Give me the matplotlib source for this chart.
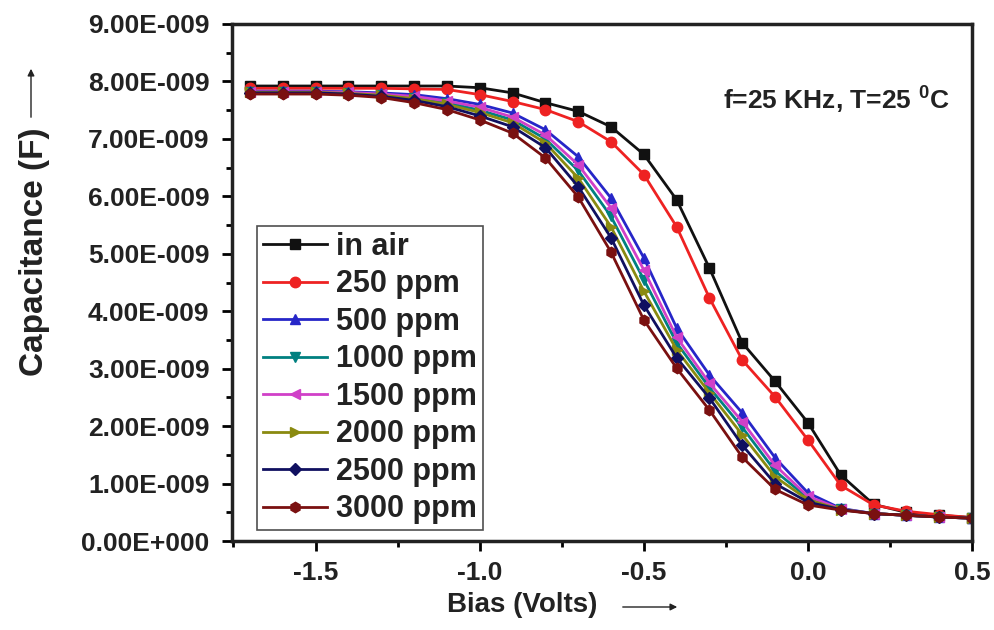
import matplotlib
matplotlib.use("Agg")
import matplotlib.pyplot as plt
import numpy as np
from matplotlib.ticker import MultipleLocator, FuncFormatter

plt.rcParams['font.family'] = ['Liberation Sans', 'DejaVu Sans']
plt.rcParams['font.weight'] = 'bold'
plt.rcParams['mathtext.fontset'] = 'custom'
plt.rcParams['mathtext.bf'] = 'Liberation Sans:bold'
plt.rcParams['mathtext.rm'] = 'Liberation Sans:bold'

bias = [-1.7, -1.6, -1.5, -1.4, -1.3, -1.2, -1.1, -1.0, -0.9, -0.8, -0.7, -0.6,
        -0.5, -0.4, -0.3, -0.2, -0.1, 0.0, 0.1, 0.2, 0.3, 0.4, 0.5]

labels = ["in air", "250 ppm", "500 ppm", "1000 ppm", "1500 ppm",
          "2000 ppm", "2500 ppm", "3000 ppm"]

in_air = [7.92, 7.92, 7.92, 7.92, 7.92, 7.92, 7.92, 7.89, 7.80, 7.63, 7.48, 7.21,
          6.73, 5.94, 4.75, 3.45, 2.78, 2.06, 1.15, 0.64, 0.50, 0.45, 0.41]
ppm250 = [7.88, 7.88, 7.88, 7.88, 7.88, 7.87, 7.86, 7.77, 7.65, 7.51, 7.30, 6.95,
          6.38, 5.47, 4.23, 3.15, 2.51, 1.76, 0.97, 0.63, 0.52, 0.46, 0.41]
ppm500 = [7.83, 7.83, 7.83, 7.82, 7.80, 7.77, 7.70, 7.60, 7.45, 7.16, 6.69, 5.97,
          4.93, 3.71, 2.89, 2.23, 1.45, 0.84, 0.57, 0.48, 0.45, 0.42, 0.40]
ppm1000 = [7.81, 7.81, 7.81, 7.80, 7.77, 7.72, 7.63, 7.50, 7.33, 7.00, 6.45, 5.65,
           4.55, 3.45, 2.67, 1.98, 1.22, 0.75, 0.56, 0.48, 0.45, 0.42, 0.40]
ppm1500 = [7.82, 7.82, 7.82, 7.81, 7.78, 7.74, 7.66, 7.55, 7.38, 7.07, 6.55, 5.80,
           4.72, 3.55, 2.75, 2.08, 1.32, 0.78, 0.56, 0.48, 0.45, 0.42, 0.40]
ppm2000 = [7.81, 7.81, 7.81, 7.79, 7.76, 7.70, 7.60, 7.46, 7.28, 6.93, 6.32, 5.47,
           4.35, 3.33, 2.58, 1.85, 1.12, 0.72, 0.55, 0.48, 0.45, 0.42, 0.40]
ppm2500 = [7.80, 7.80, 7.80, 7.78, 7.74, 7.67, 7.56, 7.40, 7.21, 6.85, 6.17, 5.28,
           4.11, 3.19, 2.49, 1.67, 1.00, 0.68, 0.55, 0.48, 0.45, 0.42, 0.40]
ppm3000 = [7.78, 7.78, 7.78, 7.76, 7.72, 7.63, 7.51, 7.33, 7.10, 6.67, 5.99, 5.03,
           3.85, 3.01, 2.28, 1.46, 0.90, 0.63, 0.54, 0.48, 0.45, 0.42, 0.40]

series = [in_air, ppm250, ppm500, ppm1000, ppm1500, ppm2000, ppm2500, ppm3000]
colors = ["#111111", "#ee2222", "#2626c8", "#008080", "#d040c8", "#8a8a10", "#101060", "#7a1010"]
markers = ["s", "o", "^", "v", "<", ">", "D", "h"]
msizes = [6.5, 7.5, 7.5, 7.5, 7.5, 7.5, 6, 7.5]

fig = plt.figure(figsize=(9.95, 6.30), dpi=100)
ax = fig.add_axes([0.233, 0.141, 0.744, 0.821])

for vals, lab, c, m, ms in zip(series, labels, colors, markers, msizes):
    ax.plot(bias, np.array(vals) * 1e-9, color=c, marker=m, markersize=ms,
            linewidth=2, label=lab, markeredgecolor=c)

ax.set_xlim(-1.755, 0.5)
ax.set_ylim(0, 9e-9)
ax.xaxis.set_major_locator(MultipleLocator(0.5))
ax.xaxis.set_minor_locator(MultipleLocator(0.25))
ax.yaxis.set_major_locator(MultipleLocator(1e-9))
ax.yaxis.set_minor_locator(MultipleLocator(0.5e-9))

def yfmt(v, pos):
    if abs(v) < 1e-15:
        return "0.00E+000"
    e = int(np.floor(np.log10(abs(v)) + 1e-9))
    mant = v / 10**e
    sign = "-" if e < 0 else "+"
    return f"{mant:.2f}E{sign}{abs(e):03d}"

ax.yaxis.set_major_formatter(FuncFormatter(yfmt))
ax.xaxis.set_major_formatter(FuncFormatter(lambda v, p: f"{v:.1f}"))

ax.tick_params(axis='both', which='major', direction='out', length=7, width=2,
               labelsize=19, top=False, right=False)
ax.tick_params(axis='both', which='minor', direction='out', length=4, width=2,
               top=False, right=False)
ax.tick_params(axis='y', pad=9)
ax.tick_params(axis='x', pad=7)
for sp in ax.spines.values():
    sp.set_linewidth(2.5)
    sp.set_color("#222222")

for t in ax.get_xticklabels() + ax.get_yticklabels():
    t.set_fontweight('bold')
    t.set_color("#222222")

ax.set_xlabel("Bias (Volts)", fontsize=20, fontweight='bold', color="#222222")
ax.set_ylabel("Capacitance (F)", fontsize=24, fontweight='bold', color="#222222")
ax.xaxis.set_label_coords(0.392, -0.098)
ax.yaxis.set_label_coords(-0.245, 0.56)

# arrows next to axis labels
fig.patches.append(matplotlib.patches.FancyArrowPatch(
    (620 / 995, 1 - 607 / 630), (680 / 995, 1 - 607 / 630), transform=fig.transFigure,
    arrowstyle='-|>', mutation_scale=10, linewidth=1, color='#222222'))
fig.patches.append(matplotlib.patches.FancyArrowPatch(
    (31 / 995, 1 - 120 / 630), (31 / 995, 1 - 66 / 630), transform=fig.transFigure,
    arrowstyle='-|>', mutation_scale=10, linewidth=1, color='#222222'))

ax.text(0.97, 0.855, r"f=25 KHz, T=25 $^{\mathbf{0}}$C", transform=ax.transAxes,
        ha='right', va='center', fontsize=19, fontweight='bold', color="#222222")

leg = ax.legend(loc='lower left', bbox_to_anchor=(0.034, 0.021), borderaxespad=0,
                frameon=True, fancybox=False, edgecolor='#222222',
                handlelength=2.1, handletextpad=0.3, labelspacing=0.245,
                borderpad=0.2, prop={'weight': 'bold', 'size': 22})
leg.get_frame().set_linewidth(1.2)
for t in leg.get_texts():
    t.set_color("#222222")

fig.savefig("out.png", dpi=100)
